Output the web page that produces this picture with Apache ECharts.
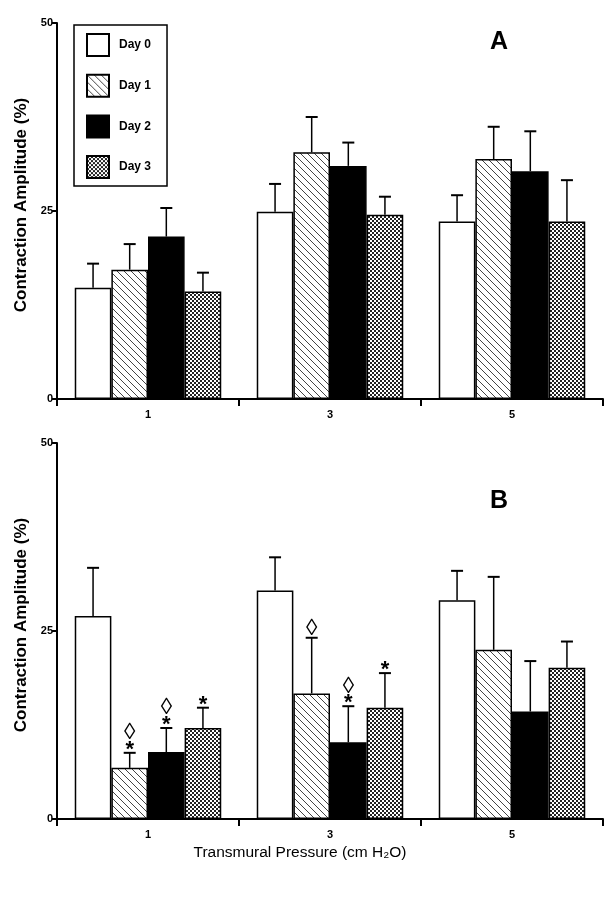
<!DOCTYPE html>
<html>
<head>
<meta charset="utf-8">
<script src="https://cdn.jsdelivr.net/npm/echarts@6/dist/echarts.min.js"></script>
<style>html,body{margin:0;padding:0;background:#fff}#c{width:612px;height:899px}</style>
</head>
<body>
<div id="c"></div>
<script>
// ---- data ----
const categories = ['1', '3', '5'];
const dayNames = ['Day 0', 'Day 1', 'Day 2', 'Day 3'];
const yTicks = [0, 25, 50];

// Panel A means and SEM
const A_day0 = [14.8, 24.9, 23.6];
const A_day1 = [17.2, 32.8, 31.9];
const A_day2 = [21.6, 31.0, 30.3];
const A_day3 = [14.3, 24.5, 23.6];
const A_sem0 = [3.2, 3.7, 3.5];
const A_sem1 = [3.4, 4.7, 4.3];
const A_sem2 = [3.8, 3.1, 5.3];
const A_sem3 = [2.5, 2.4, 5.5];

// Panel B means and SEM
const B_day0 = [27.0, 30.4, 29.1];
const B_day1 = [6.8, 16.7, 22.5];
const B_day2 = [8.9, 10.2, 14.3];
const B_day3 = [12.1, 14.8, 20.1];
const B_sem0 = [6.4, 4.4, 3.9];
const B_sem1 = [2.0, 7.4, 9.7];
const B_sem2 = [3.2, 4.8, 6.7];
const B_sem3 = [2.7, 4.6, 3.5];

// significance marks (star = vs Day 0, lozenge = other comparison)
const B_star1 = [true, false, false];
const B_star2 = [true, true, false];
const B_star3 = [true, true, false];
const B_loz1 = [true, true, false];
const B_loz2 = [true, true, false];
const B_loz3 = [false, false, false];

// ---- patterns ----
function hatchCanvas() {
  const c = document.createElement('canvas');
  c.width = 7; c.height = 7;
  const g = c.getContext('2d');
  g.fillStyle = '#fff'; g.fillRect(0, 0, 7, 7);
  g.strokeStyle = '#444'; g.lineWidth = 1;
  for (let k = -1; k <= 1; k++) {
    g.beginPath(); g.moveTo(0, k * 7); g.lineTo(7, 7 + k * 7); g.stroke();
  }
  return c;
}
function checkCanvas() {
  const c = document.createElement('canvas');
  c.width = 4; c.height = 4;
  const g = c.getContext('2d');
  g.fillStyle = '#fff'; g.fillRect(0, 0, 4, 4);
  g.fillStyle = '#222';
  g.fillRect(0, 0, 2, 2); g.fillRect(2, 2, 2, 2);
  return c;
}
const fills = [
  '#ffffff',
  { image: hatchCanvas(), repeat: 'repeat' },
  '#000000',
  { image: checkCanvas(), repeat: 'repeat' }
];

const CAT_GAP = 0.195;
const FONT = 'Liberation Sans, Arial, Helvetica, sans-serif';

function barSeries(g, d, vals) {
  return {
    type: 'bar', name: dayNames[d], xAxisIndex: g, yAxisIndex: g,
    data: vals, barGap: '0%', barCategoryGap: (CAT_GAP * 100) + '%',
    itemStyle: { color: fills[d], borderColor: '#000', borderWidth: 1.5 },
    silent: true, z: 2
  };
}

function errSeries(g, d, vals, sems, stars, lozs) {
  return {
    type: 'custom', xAxisIndex: g, yAxisIndex: g, silent: true, z: 5,
    data: vals.map((v, i) => [i, v, sems[i]]),
    encode: { x: 0, y: 1 },
    renderItem: function (params, api) {
      const i = api.value(0), v = api.value(1), s = api.value(2);
      const band = api.size([1, 0])[0];
      const used = band * (1 - CAT_GAP);
      const bw = used / 4;
      const p0 = api.coord([i, v]);
      const cx = p0[0] - used / 2 + bw * (d + 0.5);
      const yb = p0[1];
      const yt = api.coord([i, v + s])[1];
      const children = [
        { type: 'line', shape: { x1: cx, y1: yb, x2: cx, y2: yt }, style: { stroke: '#000', lineWidth: 1.5 } },
        { type: 'line', shape: { x1: cx - 6, y1: yt, x2: cx + 6, y2: yt }, style: { stroke: '#000', lineWidth: 2 } }
      ];
      const idx = params.dataIndex;
      let lozY = yt - 9;
      if (stars && stars[idx]) {
        children.push({ type: 'text', style: { text: '*', x: cx, y: yt - 3, align: 'center', verticalAlign: 'middle', font: 'bold 22px ' + FONT, fill: '#000' } });
        lozY = yt - 20;
      }
      if (lozs && lozs[idx]) {
        children.push({ type: 'text', style: { text: '\u25CA', x: cx, y: lozY, align: 'center', verticalAlign: 'middle', font: '23px ' + FONT, fill: '#000' } });
      }
      return { type: 'group', children: children };
    }
  };
}

const grids = [
  { left: 57, right: 9, top: 23, height: 376 },
  { left: 57, right: 9, top: 443, height: 376 }
];

function xAxis(g) {
  return {
    type: 'category', gridIndex: g, data: categories,
    axisLine: { lineStyle: { color: '#000', width: 2 } },
    axisTick: { show: true, length: 7, lineStyle: { color: '#000', width: 2 } },
    axisLabel: { color: '#000', fontFamily: FONT, fontWeight: 'bold', fontSize: 11, margin: 10 }
  };
}
function yAxis(g) {
  return {
    type: 'value', gridIndex: g, min: yTicks[0], max: yTicks[yTicks.length - 1], interval: yTicks[1] - yTicks[0],
    splitLine: { show: false },
    axisLine: { show: true, lineStyle: { color: '#000', width: 2 } },
    axisTick: { show: true, length: 5, lineStyle: { color: '#000', width: 2 } },
    axisLabel: { color: '#000', fontFamily: FONT, fontWeight: 'bold', fontSize: 11, margin: 4 },
    name: 'Contraction Amplitude (%)', nameLocation: 'middle', nameGap: 26,
    nameTextStyle: { color: '#000', fontFamily: FONT, fontWeight: 'bold', fontSize: 17, padding: [0, 0, 0, 12] }
  };
}

const chart = echarts.init(document.getElementById('c'), null, { renderer: 'canvas' });
chart.setOption({
  animation: false,
  backgroundColor: '#fff',
  grid: grids,
  xAxis: [xAxis(0), Object.assign(xAxis(1), {
    name: 'Transmural Pressure (cm H\u2082O)', nameLocation: 'middle', nameGap: 26,
    nameTextStyle: { color: '#000', fontFamily: FONT, fontSize: 15.5, padding: [0, 60, 0, 0] }
  })],
  yAxis: [yAxis(0), yAxis(1)],
  legend: {
    data: dayNames, orient: 'vertical', left: 74, top: 25,
    backgroundColor: '#fff', borderColor: '#000', borderWidth: 1.5,
    padding: [8, 16, 7, 12], itemWidth: 22, itemHeight: 22, itemGap: 16.7,
    icon: 'rect', selectedMode: false,
    textStyle: { color: '#000', fontFamily: FONT, fontWeight: 'bold', fontSize: 12, padding: [0, 0, 0, 5] }
  },
  graphic: [
    { type: 'text', left: 490, top: 30, style: { text: 'A', font: 'bold 25px ' + FONT, fill: '#000' } },
    { type: 'text', left: 490, top: 489, style: { text: 'B', font: 'bold 25px ' + FONT, fill: '#000' } }
  ],
  series: [
    barSeries(0, 0, A_day0), barSeries(0, 1, A_day1), barSeries(0, 2, A_day2), barSeries(0, 3, A_day3),
    barSeries(1, 0, B_day0), barSeries(1, 1, B_day1), barSeries(1, 2, B_day2), barSeries(1, 3, B_day3),
    errSeries(0, 0, A_day0, A_sem0), errSeries(0, 1, A_day1, A_sem1),
    errSeries(0, 2, A_day2, A_sem2), errSeries(0, 3, A_day3, A_sem3),
    errSeries(1, 0, B_day0, B_sem0), errSeries(1, 1, B_day1, B_sem1, B_star1, B_loz1),
    errSeries(1, 2, B_day2, B_sem2, B_star2, B_loz2), errSeries(1, 3, B_day3, B_sem3, B_star3, B_loz3)
  ]
});
</script>
</body>
</html>
